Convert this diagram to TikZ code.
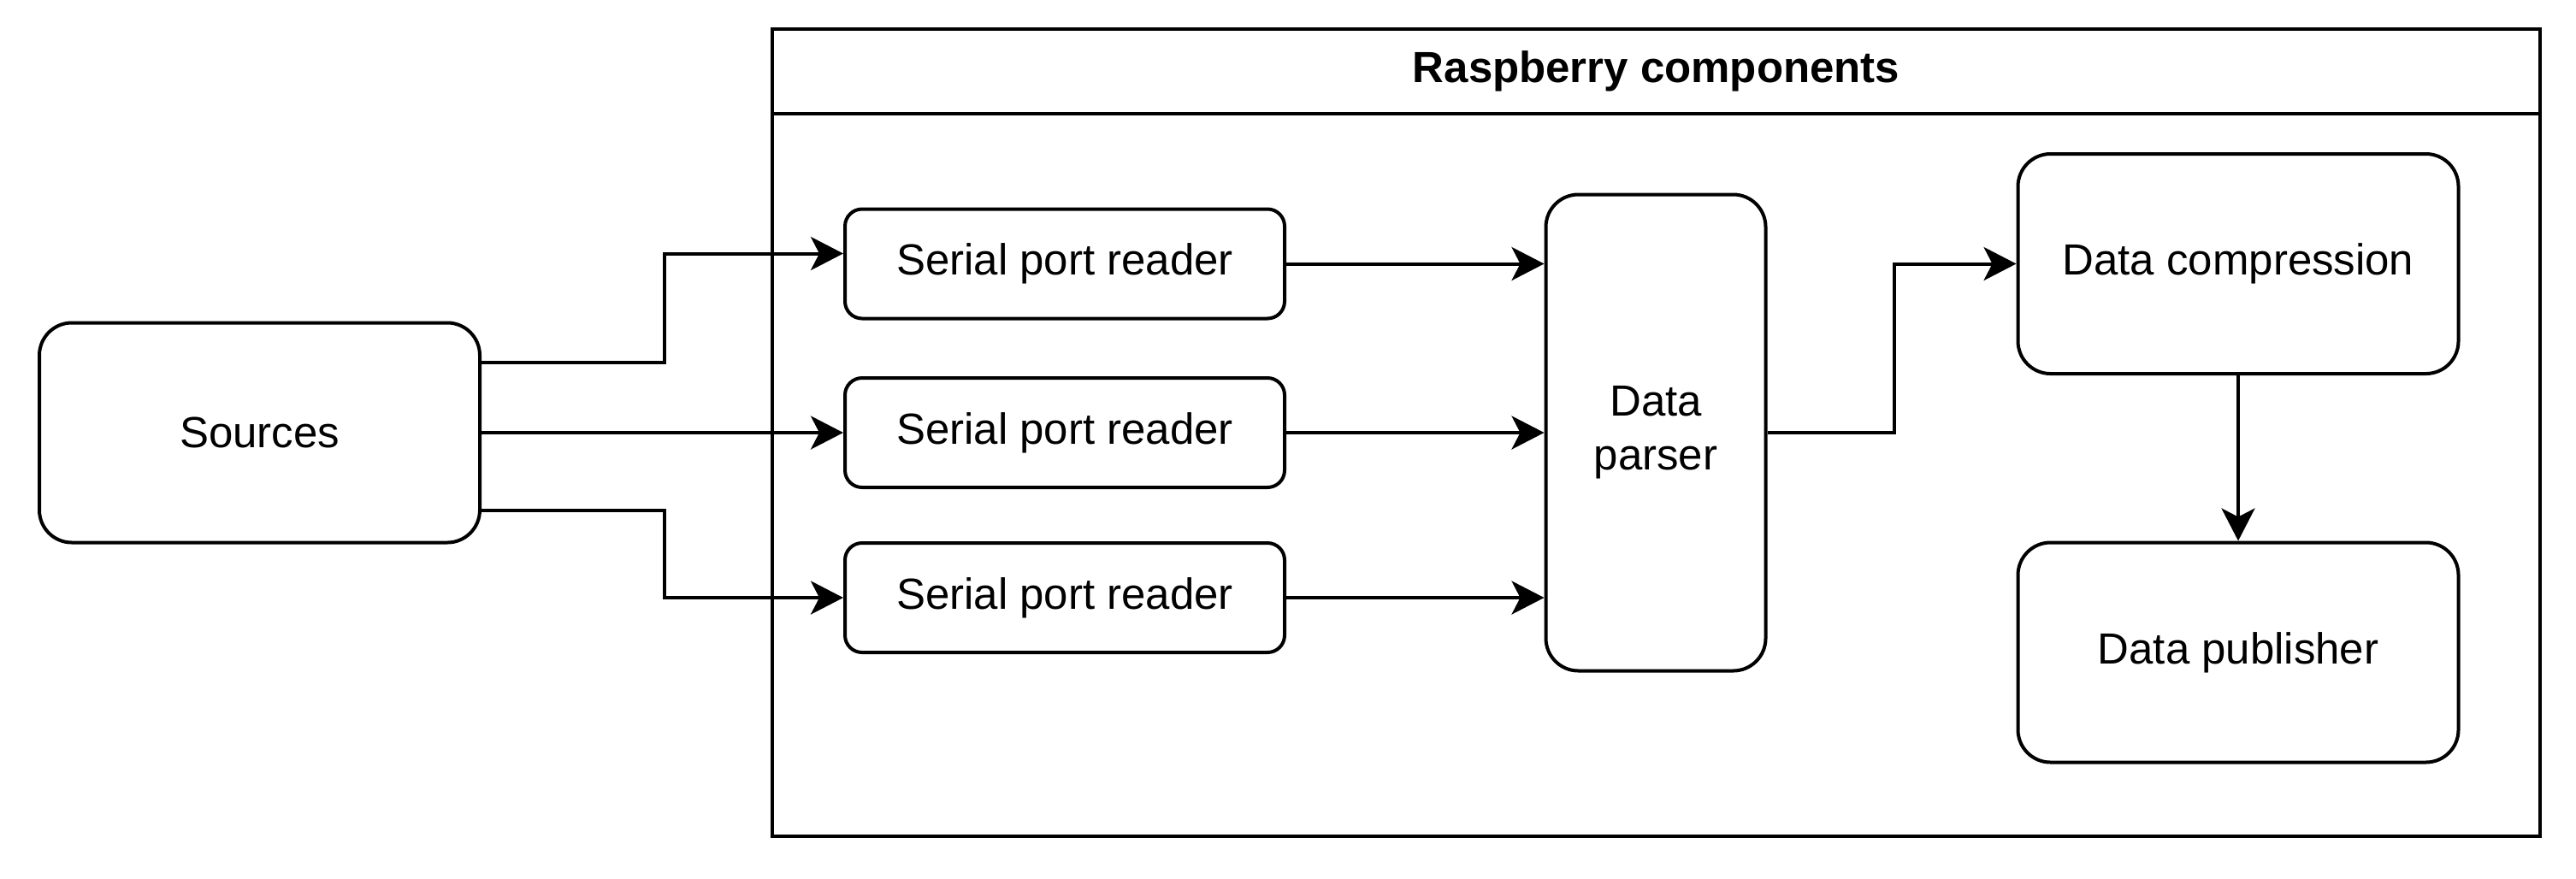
\documentclass[tikz,border=0pt]{standalone}
\usepackage{fontspec}
\setmainfont{Liberation Sans}
\usepackage{tikz}
\usetikzlibrary{arrows.meta,positioning,calc}

\begin{document}
\begin{tikzpicture}[line width=0.04cm,font=\fontsize{14.5}{17.9}\selectfont]
  % `block' is used for the big rounded components.
  % `reader' is used for the serial port readers.
  % `link' is used for all arrows.
  % `surround' is used for the Raspberry box.
  \tikzstyle{block} = [draw,rounded corners=0.38cm,minimum width=5.15cm,minimum height=2.57cm,align=center]
  \tikzstyle{reader} = [draw,rounded corners=0.2cm,minimum width=5.14cm,minimum height=1.28cm]
  \tikzstyle{link} = [-{Stealth[length=0.38cm,width=0.39cm,inset=0.1cm]}]
  \tikzstyle{surround} = [draw,minimum width=20.67cm,minimum height=9.44cm]
  %
  \useasboundingbox (0,0) rectangle (30.12,-10.27);
  % Raspberry box with its header.
  \node[surround] (raspi) at (19.365,-5.06) {};
  \node[draw,anchor=north,minimum width=20.67cm,minimum height=0.99cm,font=\fontsize{14.5}{17.9}\selectfont\bfseries] (title) at (raspi.north) {Raspberry components};
  % Components.
  \node[block] (src) at (3.035,-5.06) {Sources};
  \node[reader] (r1) at (12.45,-3.085) {Serial port reader};
  \node[reader] (r2) at (12.45,-5.06) {Serial port reader};
  \node[reader] (r3) at (12.45,-6.99) {Serial port reader};
  \node[block,minimum width=2.57cm,minimum height=5.57cm] (parser) at (19.36,-5.06) {Data\\parser};
  \node[block] (comp) at (26.17,-3.085) {Data compression};
  \node[block] (pub) at (26.17,-7.63) {Data publisher};
  % Arrows.
  \draw[link] ([yshift=0.82cm]src.east) -- ++(2.14,0) |- ([yshift=0.12cm]r1.west);
  \draw[link] (src.east) -- (r2.west);
  \draw[link] ([yshift=-0.907cm]src.east) -- ++(2.14,0) |- (r3.west);
  \draw[link] (r1.east) -- (r1.east -| parser.west);
  \draw[link] (r2.east) -- (r2.east -| parser.west);
  \draw[link] (r3.east) -- (r3.east -| parser.west);
  \draw[link] (parser.east) -- ++(1.48,0) |- (comp.west);
  \draw[link] (comp) -- (pub);
\end{tikzpicture}
\end{document}
